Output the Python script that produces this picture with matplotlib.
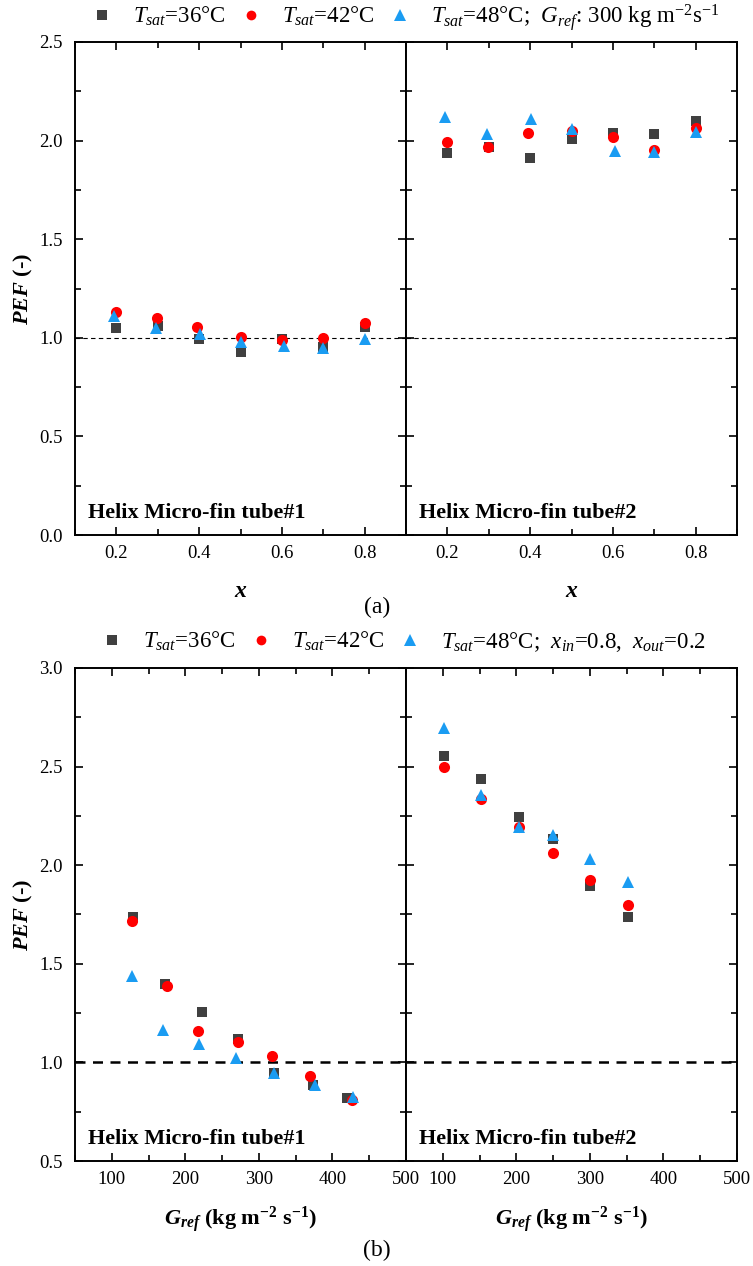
import numpy as np
import matplotlib.pyplot as plt
from matplotlib.ticker import MultipleLocator
from matplotlib.lines import Line2D

plt.rcParams['font.family'] = ['Liberation Serif', 'DejaVu Serif']
plt.rcParams['mathtext.fontset'] = 'custom'
plt.rcParams['mathtext.rm'] = 'Liberation Serif'
plt.rcParams['mathtext.it'] = 'Liberation Serif:italic'
plt.rcParams['mathtext.bf'] = 'Liberation Serif:bold'
plt.rcParams['mathtext.bfit'] = 'Liberation Serif:italic:bold'

# (a) PEF vs vapour quality, G_ref = 300
x_36 = [0.20, 0.30, 0.40, 0.50, 0.60, 0.70, 0.80]
x_42 = [0.198, 0.298, 0.395, 0.50, 0.60, 0.70, 0.80]
x_48 = [0.195, 0.295, 0.402, 0.50, 0.605, 0.70, 0.80]
a1_36 = [1.051, 1.061, 0.995, 0.930, 0.992, 0.952, 1.053]
a1_42 = [1.129, 1.102, 1.053, 1.006, 0.987, 0.997, 1.077]
a1_48 = [1.110, 1.048, 1.019, 0.979, 0.958, 0.947, 0.994]
a2_36 = [1.936, 1.969, 1.913, 2.007, 2.040, 2.033, 2.101]
a2_42 = [1.995, 1.966, 2.037, 2.050, 2.018, 1.952, 2.065]
a2_48 = [2.118, 2.033, 2.110, 2.057, 1.949, 1.944, 2.042]

# (b) PEF vs mass flux, x_in = 0.8, x_out = 0.2
g1_36 = [129, 172, 222, 271, 320, 373, 420]
g1_42 = [127, 175, 217, 271, 318, 370, 427]
g1_48 = [128, 170, 218, 269, 321, 376, 428]
b1_36 = [1.736, 1.396, 1.256, 1.117, 0.947, 0.885, 0.818]
b1_42 = [1.716, 1.388, 1.157, 1.105, 1.034, 0.930, 0.810]
b1_48 = [1.437, 1.162, 1.093, 1.020, 0.947, 0.885, 0.825]
g2 = [101, 152, 203, 250, 300, 352]
b2_36 = [2.554, 2.438, 2.242, 2.133, 1.895, 1.735]
b2_42 = [2.497, 2.336, 2.193, 2.064, 1.926, 1.796]
b2_48 = [2.696, 2.356, 2.196, 2.154, 2.030, 1.917]

c_sq = '#404040'
c_ci = '#ff0000'
c_tr = '#1a9cf2'

fig = plt.figure(figsize=(7.53, 12.66), dpi=100)

W = 331 / 753
L1 = 75 / 753
L2 = 406 / 753
H = 493 / 1266
axa1 = fig.add_axes([L1, 1 - 535 / 1266, W, H])
axa2 = fig.add_axes([L2, 1 - 535 / 1266, W, H])
axb1 = fig.add_axes([L1, 1 - 1161 / 1266, W, H])
axb2 = fig.add_axes([L2, 1 - 1161 / 1266, W, H])


def style(ax, show_y):
    for s in ax.spines.values():
        s.set_linewidth(1.4)
    ax.tick_params(which='both', direction='in', top=True, right=True,
                   labelsize=13.5, width=1.2)
    ax.tick_params(which='major', length=6)
    ax.tick_params(which='minor', length=4)
    ax.tick_params(axis='y', pad=9)
    ax.tick_params(axis='x', pad=7)
    if not show_y:
        ax.tick_params(axis='y', labelleft=False)


def draw(ax, xs, ys):
    (x1, y1), (x2, y2), (x3, y3) = zip(xs, ys)
    ax.plot(x1, y1, 's', color=c_sq, ms=7.5, mew=0, zorder=3)
    ax.plot(x2, y2, 'o', color=c_ci, ms=8, mew=0, zorder=4)
    ax.plot(x3, y3, '^', color=c_tr, ms=9, mew=0, zorder=5)


# panel (a)
draw(axa1, [x_36, x_42, x_48], [a1_36, a1_42, a1_48])
draw(axa2, [x_36, x_42, x_48], [a2_36, a2_42, a2_48])
for i, ax in enumerate([axa1, axa2]):
    ax.axhline(1.0, color='black', ls='--', lw=0.8, dashes=(4, 3), zorder=1)
    ax.set_xlim(0.1, 0.9)
    ax.set_ylim(0, 2.5)
    ax.xaxis.set_minor_locator(MultipleLocator(0.1))
    ax.yaxis.set_major_locator(MultipleLocator(0.5))
    ax.yaxis.set_minor_locator(MultipleLocator(0.25))
    ax.set_xticks([0.2, 0.4, 0.6, 0.8])
    ax.set_xticklabels(['0.2', '0.4', '0.6', '0.8'])
    style(ax, i == 0)
    ax.set_xlabel(r'$\mathbfit{x}$', fontsize=17, labelpad=14)
    ax.text(0.04, 0.025, 'Helix Micro-fin tube#%d' % (i + 1), transform=ax.transAxes,
            fontsize=16, fontweight='bold', va='bottom', ha='left')
axa1.yaxis.set_major_formatter(lambda v, p: '%.1f' % v)

# panel (b)
draw(axb1, [g1_36, g1_42, g1_48], [b1_36, b1_42, b1_48])
draw(axb2, [g2, g2, g2], [b2_36, b2_42, b2_48])
for i, ax in enumerate([axb1, axb2]):
    ax.axhline(1.0, color='black', ls='--', lw=1.8, dashes=(4, 3), zorder=1)
    ax.set_xlim(50, 500)
    ax.set_ylim(0.5, 3.0)
    ax.xaxis.set_minor_locator(MultipleLocator(50))
    ax.yaxis.set_major_locator(MultipleLocator(0.5))
    ax.yaxis.set_minor_locator(MultipleLocator(0.25))
    ax.set_xticks([100, 200, 300, 400, 500])
    style(ax, i == 0)
    ax.set_xlabel(r'$\mathbfit{G}_{\mathbfit{ref}}$ (kg m$^{\mathbf{-2}}$ s$^{\mathbf{-1}}$)',
                  fontsize=16, fontweight='bold', labelpad=12)
    ax.text(0.04, 0.025, 'Helix Micro-fin tube#%d' % (i + 1), transform=ax.transAxes,
            fontsize=16, fontweight='bold', va='bottom', ha='left')
axb1.yaxis.set_major_formatter(lambda v, p: '%.1f' % v)

for ax in [axa1, axb1]:
    ax.set_ylabel(r'$\mathbfit{PEF}$ (-)', fontsize=16, fontweight='bold', labelpad=3)

handles = [Line2D([], [], ls='none', marker='s', color=c_sq, ms=7, mew=0),
           Line2D([], [], ls='none', marker='o', color=c_ci, ms=7, mew=0),
           Line2D([], [], ls='none', marker='^', color=c_tr, ms=8, mew=0)]
lab_a = [r'$T_{sat}$=36°C', r'$T_{sat}$=42°C',
         r'$T_{sat}$=48°C;  $G_{ref}$: 300 kg m$^{-2}$s$^{-1}$']
lab_b = [r'$T_{sat}$=36°C', r'$T_{sat}$=42°C',
         r'$T_{sat}$=48°C;  $x_{in}$=0.8,  $x_{out}$=0.2']
for labs, yc, xc in [(lab_a, 17, 0.538), (lab_b, 642, 0.536)]:
    fig.legend(handles, labs, loc='center', bbox_to_anchor=(xc, 1 - yc / 1266), ncol=3,
               frameon=False, fontsize=16.5, handlelength=1.0, handletextpad=0.85,
               columnspacing=0.6, borderpad=0.1)

fig.text(377 / 753, 1 - 607 / 1266, '(a)', fontsize=17, ha='center', va='center')
fig.text(377 / 753, 1 - 1250 / 1266, '(b)', fontsize=17, ha='center', va='center')

fig.savefig('out.png', dpi=100)
